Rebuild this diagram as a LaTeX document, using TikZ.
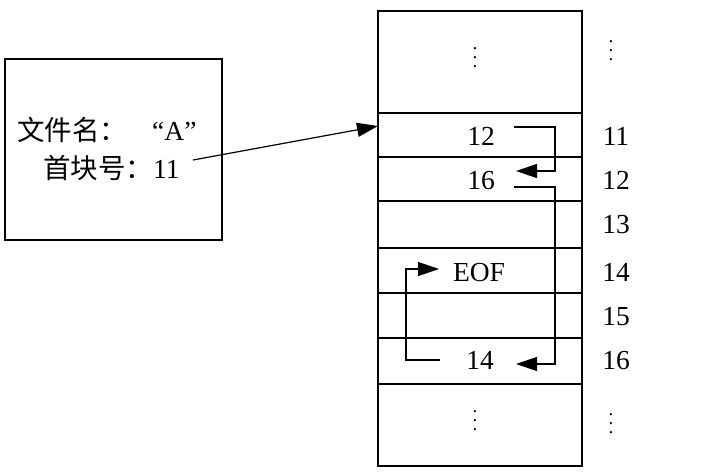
\documentclass[tikz,border=0pt]{standalone}
\usepackage{fontspec}
\setmainfont{Liberation Serif}
\newfontfamily\cjk{Noto Sans CJK SC}
\usetikzlibrary{arrows.meta}
\newcommand{\mydots}{\vbox{\baselineskip9pt\lineskiplimit-20pt\hbox{.}\hbox{.}\hbox{.}}}
\tikzset{
  box/.style={line width=1.3pt},
  ptr/.style={line width=1.2pt,-{Triangle[length=21pt,width=14pt]}},
  lbl/.style={inner sep=0pt,anchor=base,font=\fontsize{27.5}{30}\selectfont},
  dotsn/.style={inner sep=0pt,font=\fontsize{19}{19}\selectfont},
}
\begin{document}
\begin{tikzpicture}[x=1pt,y=-1pt]
\useasboundingbox (0,0) rectangle (710,472);
% left directory box
\draw[box] (5,59) rectangle (222,240);
\node[lbl,anchor=base west] (t1) at (17,140) {{\cjk 文件名：}\hspace{25pt}“A”};
\node[lbl,anchor=base west] (t2) at (43,178) {{\cjk 首块号：}11};
% disk column
\draw[box] (378,11) rectangle (582,466);
\foreach \yy in {113,157,201,248,293,338,384} \draw[box] (378,\yy) -- (582,\yy);
% cell contents
\node[dotsn] (dtop) at (475,58) {\mydots};
\node[lbl] (c12) at (481,145.5) {12};
\node[lbl] (c16) at (481,189.5) {16};
\node[lbl] (ceof) at (479,281.5) {EOF};
\node[lbl] (c14) at (480,369.5) {14};
\node[dotsn] (dbot) at (475,421) {\mydots};
% block numbers
\node[dotsn] (ntop) at (611,51) {\mydots};
\node[lbl] (n11) at (616,145.5) {11};
\node[lbl] (n12) at (616,189.5) {12};
\node[lbl] (n13) at (616,233.5) {13};
\node[lbl] (n14) at (616,281.5) {14};
\node[lbl] (n15) at (616,325.5) {15};
\node[lbl] (n16) at (616,369.5) {16};
\node[dotsn] (nbot) at (611,424) {\mydots};
% coordinates for connectors
\coordinate (from) at (193,160);
\coordinate (in11) at (378,126);
\coordinate (s11) at (514,127);
\coordinate (e12) at (516,171);
\coordinate (s12) at (514,187);
\coordinate (e16) at (516,364);
\coordinate (s16) at (440,360);
\coordinate (e14) at (439,269);
% connectors
\draw[ptr] (from) -- (in11);
\draw[ptr] (s11) -- (555,127) |- (e12);
\draw[ptr] (s12) -- (555,187) |- (e16);
\draw[ptr] (s16) -- (406,360) |- (e14);
\end{tikzpicture}
\end{document}
